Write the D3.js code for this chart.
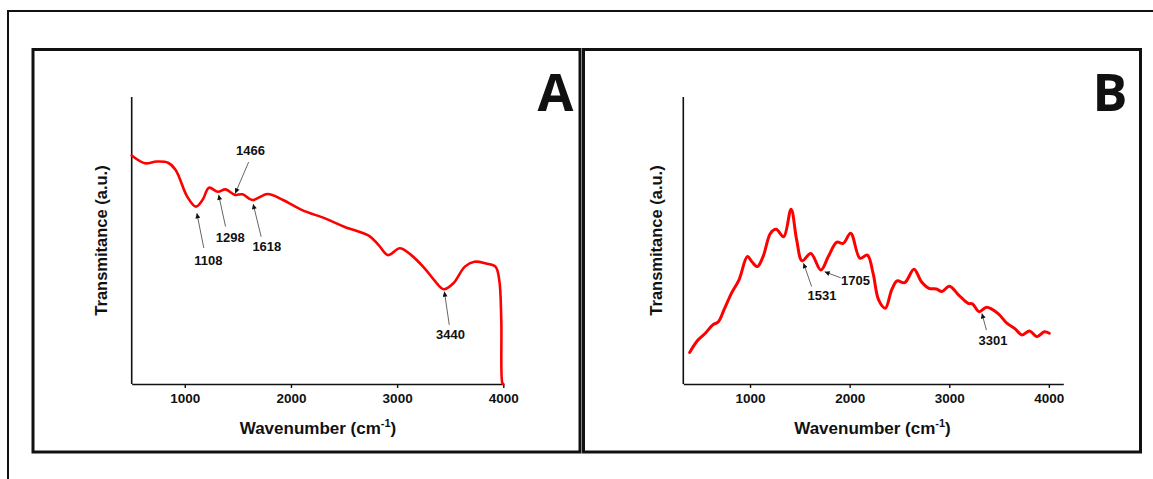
<!DOCTYPE html>
<html>
<head>
<meta charset="utf-8">
<script src="https://cdn.jsdelivr.net/npm/d3@7"></script>
<style>
  html, body { margin: 0; padding: 0; background: #fff; }
  svg { display: block; }
  text { font-family: "Liberation Sans", Arial, sans-serif; font-weight: bold; fill: #111; }
</style>
</head>
<body>
<svg width="1153" height="479"></svg>
<script>
// Panel A spectrum
const wavenumberA = [500, 507, 625, 734, 842, 914, 1023, 1105, 1167, 1228, 1311, 1383, 1474, 1545, 1636, 1780, 1925, 2105, 2321, 2502, 2736, 2826, 2916, 3025, 3133, 3259, 3349, 3440, 3530, 3638, 3728, 3837, 3926, 3962, 3981, 3991, 4000];
const transmittanceA = [79.6, 79.4, 76.9, 77.5, 77.1, 74.6, 65.3, 61.8, 64.1, 68.4, 67.0, 67.8, 65.9, 66.1, 64.1, 66.2, 64.1, 60.6, 57.7, 54.8, 51.6, 48.4, 44.9, 47.3, 44.9, 40.3, 36.2, 33.0, 35.1, 40.9, 42.6, 42.0, 40.9, 36.2, 22.3, 0.3, 0];

// Panel B spectrum
const wavenumberB = [394, 477, 551, 626, 682, 738, 813, 888, 974, 1019, 1074, 1131, 1205, 1262, 1337, 1412, 1468, 1523, 1610, 1711, 1786, 1872, 1935, 2010, 2104, 2178, 2235, 2291, 2358, 2422, 2477, 2553, 2646, 2721, 2796, 2871, 2926, 3002, 3095, 3189, 3233, 3300, 3375, 3488, 3581, 3656, 3731, 3806, 3880, 3955, 4004];
const transmittanceB = [11.0, 15.3, 17.7, 20.6, 21.7, 25.8, 31.6, 36.2, 44.4, 42.6, 40.9, 44.4, 52.5, 53.9, 51.3, 60.9, 50.2, 42.9, 45.5, 39.7, 44.4, 49.4, 49.0, 52.5, 43.8, 44.9, 38.6, 29.3, 26.4, 32.8, 35.9, 35.3, 40.0, 35.6, 33.3, 33.1, 32.2, 34.1, 31.0, 28.1, 27.9, 25.2, 26.7, 24.6, 21.1, 19.4, 17.1, 18.5, 16.5, 18.2, 17.7];

const xTicks = [1000, 2000, 3000, 4000];

// peak labels and where their arrows point (wavenumber, transmittance)
const peaksA = ["1108", "1298", "1466", "1618", "3440"];
const peakTipWnA = [1114, 1319, 1475, 1644, 3445];
const peakTipTA = [59.5, 65.9, 66.4, 62.7, 32.2];

const peaksB = ["1531", "1705", "3301"];
const peakTipWnB = [1537, 1749, 3328];
const peakTipTB = [42.1, 39.1, 24.6];

const svg = d3.select("svg");

svg.append("defs").append("marker")
  .attr("id", "head")
  .attr("viewBox", "0 0 10 10")
  .attr("refX", 10).attr("refY", 5)
  .attr("markerWidth", 7).attr("markerHeight", 5)
  .attr("markerUnits", "userSpaceOnUse")
  .attr("orient", "auto")
  .append("path").attr("d", "M0,0L10,5L0,10Z").attr("fill", "#111");

// outer frame (only left and top edges visible)
svg.append("path")
  .attr("d", "M8,479V11H1153")
  .attr("fill", "none").attr("stroke", "#111").attr("stroke-width", 2);

function drawPanel(cfg) {
  const g = svg.append("g");

  g.append("rect")
    .attr("x", cfg.frame[0]).attr("y", cfg.frame[1])
    .attr("width", cfg.frame[2]).attr("height", cfg.frame[3])
    .attr("fill", "#fff").attr("stroke", "#111").attr("stroke-width", 3);

  const x = d3.scaleLinear().domain(cfg.xDomain).range([cfg.left, cfg.right]);
  const y = d3.scaleLinear().domain([0, 100]).range([cfg.bottom, cfg.top]);

  // y axis: bare line
  g.append("line")
    .attr("x1", cfg.left).attr("x2", cfg.left)
    .attr("y1", cfg.top).attr("y2", cfg.bottom)
    .attr("stroke", "#111").attr("stroke-width", 1.6);

  const xAxis = g.append("g")
    .attr("transform", `translate(0,${cfg.bottom})`)
    .call(d3.axisBottom(x).tickValues(xTicks).tickFormat(d3.format("d"))
      .tickSize(4).tickPadding(5).tickSizeOuter(0));
  xAxis.select(".domain").attr("stroke", "#111").attr("stroke-width", 1.6);
  xAxis.selectAll(".tick line").attr("stroke", "#111").attr("stroke-width", 1.4);
  xAxis.selectAll(".tick text")
    .attr("fill", "#111")
    .style("font-family", "'Liberation Sans', Arial, sans-serif")
    .style("font-weight", "bold").style("font-size", "13.5px");

  const title = g.append("text")
    .attr("x", (cfg.left + cfg.right) / 2 + cfg.titleShift).attr("y", cfg.bottom + 50)
    .attr("text-anchor", "middle").style("font-size", "17px");
  title.append("tspan").text("Wavenumber (cm");
  title.append("tspan").attr("dy", -7).style("font-size", "11px").text("-1");
  title.append("tspan").attr("dy", 7).text(")");

  g.append("text")
    .attr("transform", `translate(${cfg.yLabelX},${(cfg.top + cfg.bottom) / 2}) rotate(-90)`)
    .attr("text-anchor", "middle").attr("dy", "0.35em")
    .style("font-size", "16.5px")
    .text("Transmitance (a.u.)");

  const line = d3.line()
    .x((d, i) => x(cfg.wn[i]))
    .y(d => y(d))
    .curve(d3.curveCatmullRom.alpha(0.5));

  g.append("path")
    .datum(cfg.t)
    .attr("d", line)
    .attr("fill", "none").attr("stroke", "#ff0000")
    .attr("stroke-width", cfg.lineWidth)
    .attr("stroke-linejoin", "round").attr("stroke-linecap", "round");

  // peak annotations
  cfg.peaks.forEach((lab, i) => {
    const tx = x(cfg.tipWn[i]), ty = y(cfg.tipT[i]);
    const o = cfg.offsets[i];
    g.append("line")
      .attr("x1", tx + o[2]).attr("y1", ty + o[3])
      .attr("x2", tx).attr("y2", ty)
      .attr("stroke", "#555").attr("stroke-width", 0.9)
      .attr("marker-end", "url(#head)");
    g.append("text")
      .attr("x", tx + o[0]).attr("y", ty + o[1])
      .attr("text-anchor", "middle").attr("dy", "0.36em")
      .style("font-size", "13px")
      .text(lab);
  });

  g.append("text")
    .attr("x", cfg.letterX).attr("y", 111)
    .attr("text-anchor", "middle")
    .style("font-family", "'Open Sans', sans-serif")
    .style("font-weight", 700).style("font-size", "52px")
    .attr("fill", "#000")
    .text(cfg.letter);
}

drawPanel({
  frame: [33, 49.5, 547, 402.5],
  xDomain: [500, 4000], left: 131.7, right: 503.3, top: 97, bottom: 384,
  wn: wavenumberA, t: transmittanceA, lineWidth: 2.6,
  peaks: peaksA, tipWn: peakTipWnA, tipT: peakTipTA,
  // [label dx, label dy, tail dx, tail dy] in px from arrow tip
  offsets: [[11.5, 47.4, 6.9, 34.7], [11.5, 42.7, 6.9, 31.7], [15.3, -43.3, 13.4, -31.3], [13.7, 42.7, 8, 32.7], [6.1, 42.6, 4.9, 33.3]],
  yLabelX: 101.5, titleShift: 0.5, letter: "A", letterX: 555.5
});

drawPanel({
  frame: [583.5, 49.5, 557, 402.5],
  xDomain: [330, 4145], left: 683.3, right: 1063.3, top: 97, bottom: 384,
  wn: wavenumberB, t: transmittanceB, lineWidth: 3,
  peaks: peaksB, tipWn: peakTipWnB, tipT: peakTipTB,
  offsets: [[18.5, 31.7, 8.1, 23.4], [30.9, 8.3, 16, 6], [11.1, 26.7, 4.5, 16.7]],
  yLabelX: 656, titleShift: -0.8, letter: "B", letterX: 1110
});
</script>
</body>
</html>
